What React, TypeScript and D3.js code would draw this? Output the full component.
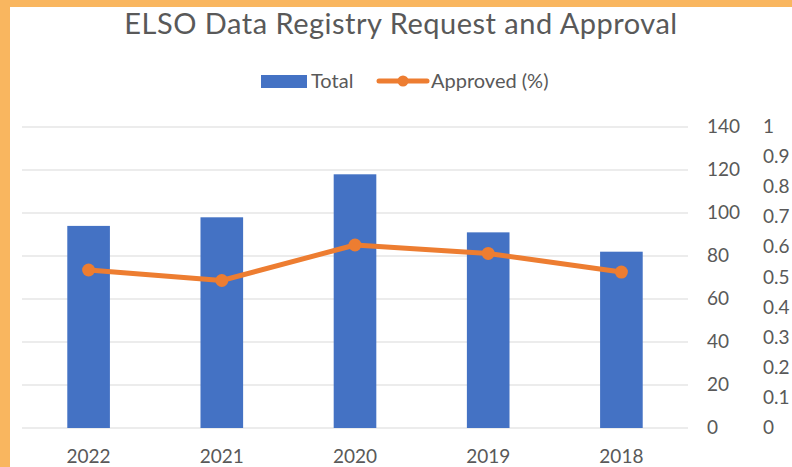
import React, { useEffect, useRef } from 'react';
import * as d3 from 'd3';

const years = ['2022', '2021', '2020', '2019', '2018'];
const totals = [94, 98, 118, 91, 82];
const approved = [0.525, 0.49, 0.608, 0.58, 0.518];
const leftTicks = [0, 20, 40, 60, 80, 100, 120, 140];
const rightTicks = [0, 0.1, 0.2, 0.3, 0.4, 0.5, 0.6, 0.7, 0.8, 0.9, 1];

const W = 792;
const H = 467;
const FONT = 'Lato, "Liberation Sans", sans-serif';
const TEXT = '#595959';
const BLUE = '#4472C4';
const ORANGE = '#ED7D31';

const App = () => {
  const ref = useRef<SVGSVGElement>(null);

  useEffect(() => {
    const svg = d3.select(ref.current);
    svg.selectAll('*').remove();

    const plot = { left: 22, right: 688, top: 127, bottom: 428 };

    // frame: orange strip on top and left
    svg.append('rect').attr('width', W).attr('height', H).attr('fill', '#fff');
    svg.append('rect').attr('width', W).attr('height', 7).attr('fill', '#F9B65F');
    svg.append('rect').attr('width', 10).attr('height', H).attr('fill', '#F9B65F');

    const x = d3.scaleBand().domain(years).range([plot.left, plot.right]).paddingInner(0.68).paddingOuter(0.34);
    const y = d3.scaleLinear().domain([0, 140]).range([plot.bottom, plot.top]);
    const y2 = d3.scaleLinear().domain([0, 1]).range([plot.bottom, plot.top]);

    svg.append('text')
      .attr('x', 401).attr('y', 34)
      .attr('text-anchor', 'middle')
      .attr('font-family', FONT).attr('font-size', 29)
      .attr('letter-spacing', 0.5)
      .attr('fill', TEXT)
      .text('ELSO Data Registry Request and Approval');

    // gridlines
    svg.append('g').selectAll('line').data(leftTicks).join('line')
      .attr('x1', plot.left).attr('x2', plot.right)
      .attr('y1', d => y(d)).attr('y2', d => y(d))
      .attr('stroke', '#d9d9d9').attr('stroke-width', 1.2);

    // primary value axis (drawn on the right side)
    svg.append('g').selectAll('text').data(leftTicks).join('text')
      .attr('x', 707).attr('y', d => y(d) + 6)
      .attr('font-family', FONT).attr('font-size', 19).attr('fill', TEXT)
      .text(d => d);

    svg.append('g').selectAll('text').data(rightTicks).join('text')
      .attr('x', 763).attr('y', d => y2(d) + 6)
      .attr('font-family', FONT).attr('font-size', 19).attr('fill', TEXT)
      .text(d => d3.format('~g')(d));

    // bars
    svg.append('g').selectAll('rect').data(totals).join('rect')
      .attr('x', (d, i) => x(years[i])!)
      .attr('width', x.bandwidth())
      .attr('y', d => y(d))
      .attr('height', d => y(0) - y(d))
      .attr('fill', BLUE);

    // line
    const cx = (i: number) => x(years[i])! + x.bandwidth() / 2;
    const line = d3.line<number>().x((d, i) => cx(i)).y(d => y2(d));
    svg.append('path').datum(approved)
      .attr('fill', 'none').attr('stroke', ORANGE).attr('stroke-width', 5)
      .attr('stroke-linejoin', 'round').attr('stroke-linecap', 'round')
      .attr('d', line);
    svg.append('g').selectAll('circle').data(approved).join('circle')
      .attr('cx', (d, i) => cx(i)).attr('cy', d => y2(d))
      .attr('r', 6.5).attr('fill', ORANGE);

    // category labels
    svg.append('g').selectAll('text').data(years).join('text')
      .attr('x', d => x(d)! + x.bandwidth() / 2).attr('y', 463)
      .attr('text-anchor', 'middle')
      .attr('font-family', FONT).attr('font-size', 19).attr('fill', TEXT)
      .text(d => d);

    // legend
    const lg = svg.append('g');
    lg.append('rect').attr('x', 261).attr('y', 75).attr('width', 46).attr('height', 13).attr('fill', BLUE);
    lg.append('text').attr('x', 311).attr('y', 88)
      .attr('font-family', FONT).attr('font-size', 20).attr('fill', TEXT).text('Total');
    lg.append('line').attr('x1', 379).attr('x2', 427).attr('y1', 81).attr('y2', 81)
      .attr('stroke', ORANGE).attr('stroke-width', 5).attr('stroke-linecap', 'round');
    lg.append('circle').attr('cx', 403).attr('cy', 81).attr('r', 5.5).attr('fill', ORANGE);
    lg.append('text').attr('x', 431).attr('y', 88)
      .attr('font-family', FONT).attr('font-size', 20).attr('fill', TEXT).text('Approved (%)');
  }, []);

  return (
    <div style={{ position: 'absolute', left: 0, top: 0 }}>
      <svg ref={ref} width={W} height={H} style={{ display: 'block' }} />
    </div>
  );
};

export default App;
